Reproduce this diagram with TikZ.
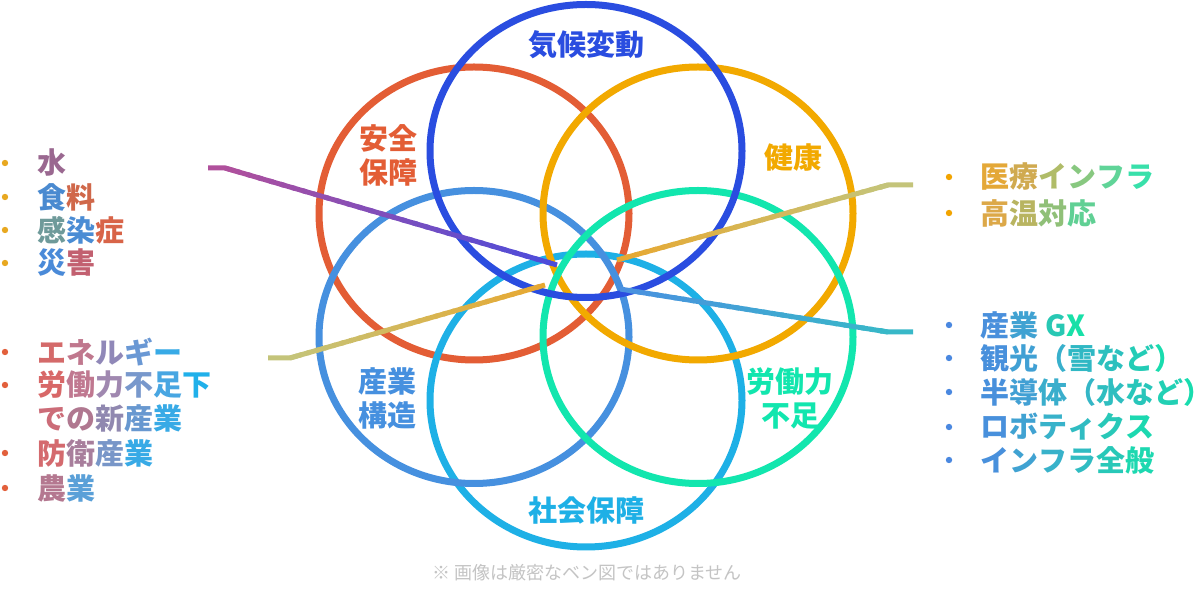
\documentclass[tikz,border=0pt]{standalone}
\usepackage{fontspec}
\setmainfont{Noto Sans CJK JP}
\usetikzlibrary{calc}
\definecolor{cDB}{HTML}{2A4DE0}
\definecolor{cRed}{HTML}{E35D35}
\definecolor{cOr}{HTML}{F2A900}
\definecolor{cBl}{HTML}{4690DF}
\definecolor{cGr}{HTML}{12E6AE}
\definecolor{cCy}{HTML}{1EB0E6}
\definecolor{cNote}{HTML}{C4C4C4}
\definecolor{lPa}{HTML}{B0509C}
\definecolor{lPb}{HTML}{4A4CDC}
\definecolor{lBa}{HTML}{4A90E0}
\definecolor{lBb}{HTML}{38B8C8}
\definecolor{lOa}{HTML}{C4C47A}
\definecolor{lOb}{HTML}{E8A830}
\definecolor{bulA}{HTML}{E8A820}
\definecolor{bulB}{HTML}{E2603C}
\definecolor{bulC}{HTML}{F2A400}
\definecolor{bulD}{HTML}{4A88E0}
\newcommand{\gch}[2]{\textcolor[HTML]{#1}{#2}}
\newcommand{\closeparx}[1]{\makebox[0.4em][l]{\textcolor[HTML]{#1}{）}}}
\newcommand{\gradseg}[4]{%
  \foreach \i in {0,...,29}{%
    \pgfmathsetmacro\pa{\i/30}%
    \pgfmathsetmacro\pb{min((\i+1)/30+0.012,1)}%
    \pgfmathsetmacro\pc{100*(\i+0.5)/30}%
    \draw[gline, color=#4!\pc!#3] ($(#1)!\pa!(#2)$) -- ($(#1)!\pb!(#2)$);
  }}
\begin{document}
\begin{tikzpicture}[x=0.5pt,y=-0.5pt,
  ring/.style={line width=3.5pt},
  gline/.style={line width=2.5pt, line cap=butt},
  lbl/.style={font=\fontsize{14.5}{17}\selectfont\bfseries, inner sep=0pt, align=center},
  item/.style={font=\fontsize{14.5}{17}\selectfont\bfseries, inner sep=0pt, anchor=west},
  note/.style={font=\fontsize{9}{11}\selectfont, text=cNote, inner sep=0pt}]
\fill[white] (0,0) rectangle (1200,603);
\useasboundingbox (0,0) rectangle (1200,603);
% ellipses
\draw[ring, cRed] (474,213.5) ellipse [x radius=155, y radius=146.5];
\draw[ring, cCy]  (586,400.5) ellipse [x radius=156, y radius=146.5];
\draw[ring, cBl]  (474,337)   ellipse [x radius=155, y radius=146.5];
\draw[ring, cOr]  (698,213.5) ellipse [x radius=155, y radius=146.5];
\draw[ring, cGr]  (698,337)   ellipse [x radius=155, y radius=146.5];
\draw[ring, cDB]  (586,151)   ellipse [x radius=156, y radius=146.5];
% lines
\coordinate (p1) at (208,168); \coordinate (p2) at (225,168); \coordinate (p3) at (557,265);
\coordinate (q1) at (620,289); \coordinate (q2) at (888,332); \coordinate (q3) at (913,332);
\coordinate (o1) at (268,358); \coordinate (o2) at (290,358); \coordinate (o3) at (545,285);
\coordinate (r1) at (617,260); \coordinate (r2) at (888,185); \coordinate (r3) at (913,185);
\draw[gline, lPa] (p1) -- (p2) -- ($(p2)!0.03!(p3)$);
\gradseg{p2}{p3}{lPa}{lPb}
\gradseg{q1}{q2}{lBa}{lBb}
\draw[gline, lBb] ($(q2)!0.03!(q1)$) -- (q2) -- (q3);
\draw[gline, lOa] (o1) -- (o2) -- ($(o2)!0.03!(o3)$);
\gradseg{o2}{o3}{lOa}{lOb}
\gradseg{r1}{r2}{lOb}{lOa}
\draw[gline, lOa] ($(r2)!0.03!(r1)$) -- (r2) -- (r3);
% circle labels
\node[lbl, text=cDB] (kikou) at (586,45) {気候変動};
\node[lbl, text=cRed] (anzen) at (388,155) {安全\\保障};
\node[lbl, text=cOr] (kenkou) at (793,158) {健康};
\node[lbl, text=cBl] (sangyo) at (387,398) {産業\\構造};
\node[lbl, text=cGr] (roudou) at (790,398) {労働力\\不足};
\node[lbl, text=cCy] (shakai) at (586,510) {社会保障};
% left list group 1
\foreach \yy in {163,197,230,263}{\fill[bulA] (5,\yy) circle [radius=3.2];}
\node[item] (l1) at (37,163) {\gch{9A6890}{水}};
\node[item] (l2) at (37,197) {\gch{4A8AD0}{食}\gch{D0684A}{料}};
\node[item] (l3) at (37,230) {\gch{6E9A9A}{感}\gch{4A8CD4}{染}\gch{D86448}{症}};
\node[item] (l4) at (37,263) {\gch{4A8AD8}{災}\gch{C26070}{害}};
% left list group 2
\foreach \yy in {352,385,453,488}{\fill[bulB] (5,\yy) circle [radius=3.2];}
\node[item] (m1) at (37,352) {\gch{D46A6A}{エ}\gch{C0788E}{ネ}\gch{9088B8}{ル}\gch{6A98D4}{ギ}\gch{38AAE6}{ー}};
\node[item] (m2) at (37,385) {\gch{D86868}{労}\gch{C07890}{働}\gch{A088B0}{力}\gch{7898CC}{不}\gch{48A6E2}{足}\gch{20B0EA}{下}};
\node[item] (m3) at (37,418) {\gch{CC6C78}{で}\gch{B07890}{の}\gch{9088B0}{新}\gch{6898D0}{産}\gch{38AAE6}{業}};
\node[item] (m4) at (37,453) {\gch{D46A6E}{防}\gch{A87E9C}{衛}\gch{7896C8}{産}\gch{38AAE6}{業}};
\node[item] (m5) at (37,488) {\gch{B47890}{農}\gch{5AA0D8}{業}};
% right list group 1
\foreach \yy in {177,213}{\fill[bulC] (949,\yy) circle [radius=3.2];}
\node[item] (n1) at (980,177) {\gch{E4A838}{医}\gch{D0AA50}{療}\gch{B0BC68}{イ}\gch{88C880}{ン}\gch{60D498}{フ}\gch{38E0AA}{ラ}};
\node[item] (n2) at (980,213) {\gch{DCA848}{高}\gch{B8B460}{温}\gch{90C078}{対}\gch{60D094}{応}};
% right list group 2
\foreach \yy in {325,358,392,427,460}{\fill[bulD] (949,\yy) circle [radius=3.2];}
\node[item] (s1) at (980,325) {\gch{4A90DC}{産}\gch{40A2D2}{業} \gch{28C8B4}{G}\gch{18E0A8}{X}};
\node[item] (s2) at (980,358) {\gch{4890DC}{観}\gch{40A0D4}{光}\gch{38B0CC}{（}\gch{30B8C4}{雪}\gch{2CC0BE}{な}\gch{24CCB6}{ど}\closeparx{18DCAE}};
\node[item] (s3) at (980,392) {\gch{4890DC}{半}\gch{42A0D4}{導}\gch{3AAECC}{体}\gch{34B6C6}{（}\gch{2EBEC0}{水}\gch{28C6BA}{な}\gch{22D0B4}{ど}\closeparx{18DCAE}};
\node[item] (s4) at (980,427) {\gch{4890DC}{ロ}\gch{40A2D2}{ボ}\gch{38B2CA}{テ}\gch{30BCC2}{ィ}\gch{28C8B8}{ク}\gch{1CD8B0}{ス}};
\node[item] (s5) at (980,460) {\gch{4890DC}{イ}\gch{40A2D2}{ン}\gch{38B2CA}{フ}\gch{30BCC2}{ラ}\gch{28C8B8}{全}\gch{1CD8B0}{般}};
% note
\node[note] (nt) at (587,573) {※ 画像は厳密なベン図ではありません};
\end{tikzpicture}
\end{document}
